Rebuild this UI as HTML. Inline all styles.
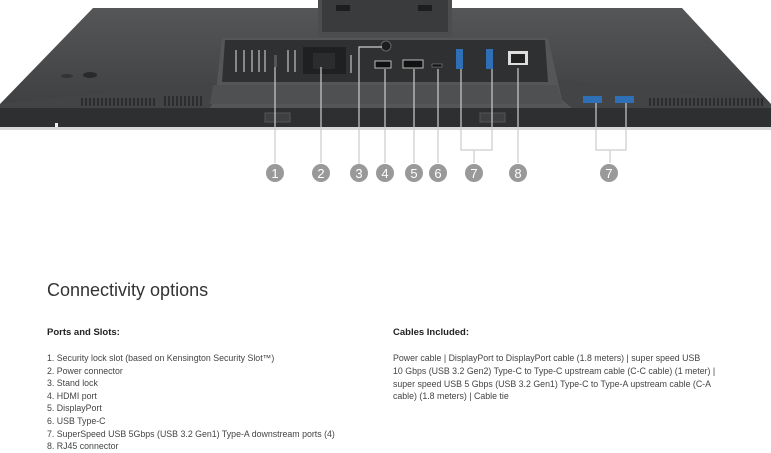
<!DOCTYPE html>
<html><head><style>
body{margin:0;width:771px;height:448px;background:#fff;overflow:hidden;position:relative;font-family:"Liberation Sans",sans-serif;color:#333}
.t{position:absolute;white-space:nowrap}
</style></head><body>
<svg width="771" height="200" style="position:absolute;left:0;top:0">
<defs><linearGradient id="g" x1="0" y1="0" x2="0" y2="1"><stop offset="0" stop-color="#555658"/><stop offset="1" stop-color="#3e3f41"/></linearGradient></defs>
<path d="M93,8 L682,8 L771,104 L771,110 L0,110 L0,104 Z" fill="url(#g)"/>
<path d="M0,104 Q200,80 420,70 Q580,78 771,104 L771,110 L0,110Z" fill="#434446"/>
<rect x="0" y="108" width="771" height="21" fill="#2e2f31"/>
<rect x="0" y="127" width="771" height="3" fill="#d8d8d8"/>
<rect x="318" y="0" width="134" height="38" fill="#4c4d4f"/>
<rect x="322" y="0" width="126" height="32" fill="#3a3b3d"/>
<rect x="336" y="5" width="14" height="6" fill="#1e1e1e"/><rect x="418" y="5" width="14" height="6" fill="#1e1e1e"/>
<rect x="374" y="40" width="22" height="8" fill="#6d6e70"/>
<path d="M222,38 L548,38 L562,100 L572,108 L210,108 L215,100 Z" fill="#555658"/>
<path d="M225,40 L545,40 L548,82 L222,82 Z" fill="#2f3032"/>
<path d="M213,85 L557,85 L562,104 L210,104Z" fill="#4f5052"/>
<rect x="303" y="47" width="43" height="27" fill="#1f2021"/>
<rect x="313" y="53" width="22" height="16" fill="#2b2c2d"/>
<rect x="274" y="55" width="3" height="12" fill="#555"/>
<g fill="#888"><rect x="235" y="50" width="2" height="22"/><rect x="243" y="50" width="2" height="22"/><rect x="251" y="50" width="2" height="22"/><rect x="258" y="50" width="2" height="22"/><rect x="264" y="50" width="2" height="22"/><rect x="287" y="50" width="2" height="22"/><rect x="294" y="50" width="2" height="22"/><rect x="350" y="55" width="2" height="18"/></g>
<circle cx="386" cy="46" r="5" fill="#1e1e1e" stroke="#666"/>
<rect x="375" y="61" width="16" height="7" fill="#111" stroke="#bbb" stroke-width="1"/>
<rect x="403" y="60" width="20" height="8" fill="#111" stroke="#bbb" stroke-width="1"/>
<rect x="432" y="64" width="10" height="3" fill="#111" stroke="#888" stroke-width=".6"/>
<rect x="456" y="49" width="7" height="20" fill="#2f6fb5"/><rect x="486" y="49" width="7" height="20" fill="#2f6fb5"/>
<rect x="508" y="51" width="20" height="14" fill="#ddd"/><rect x="511" y="54" width="14" height="9" fill="#222"/>
<rect x="583" y="96" width="19" height="7" fill="#2f6fb5"/><rect x="615" y="96" width="19" height="7" fill="#2f6fb5"/>
<g stroke="#1e1e1e" stroke-width="1.2">
<path d="M82,98v8M86,98v8M90,98v8M94,98v8M98,98v8M102,98v8M106,98v8M110,98v8M114,98v8M118,98v8M122,98v8M126,98v8M130,98v8M134,98v8M138,98v8M142,98v8M146,98v8M150,98v8M154,98v8M165,96v10M169,96v10M173,96v10M177,96v10M181,96v10M185,96v10M189,96v10M193,96v10M197,96v10M201,96v10"/>
<path d="M650,98v8M654,98v8M658,98v8M662,98v8M666,98v8M670,98v8M674,98v8M678,98v8M682,98v8M686,98v8M690,98v8M694,98v8M698,98v8M702,98v8M706,98v8M710,98v8M714,98v8M718,98v8M722,98v8M726,98v8M730,98v8M734,98v8M738,98v8M742,98v8M746,98v8M750,98v8M754,98v8M758,98v8M762,98v8"/>
</g>
<rect x="265" y="113" width="25" height="9" fill="#3e3f41" stroke="#555"/><rect x="480" y="113" width="25" height="9" fill="#3e3f41" stroke="#555"/>
<ellipse cx="90" cy="75" rx="7" ry="3" fill="#2a2a2a"/><ellipse cx="67" cy="76" rx="6" ry="2" fill="#333"/>
<rect x="55" y="123" width="3" height="4" fill="#eee"/>
<g stroke="#ccc" stroke-width="1.2" fill="none">
<path d="M275,67V163M321,67V163M359,164V47H382M385,69V163M414,69V163M438,69V163M461,69V150H492V69M474,150V163M518,68V163M596,103V150H626V103M610,150V163"/>
</g>
<g fill="#999" font-family="Liberation Sans" font-size="13" text-anchor="middle">
<circle cx="275" cy="173" r="9"/><circle cx="321" cy="173" r="9"/><circle cx="359" cy="173" r="9"/><circle cx="385" cy="173" r="9"/><circle cx="414" cy="173" r="9"/><circle cx="438" cy="173" r="9"/><circle cx="474" cy="173" r="9"/><circle cx="518" cy="173" r="9"/><circle cx="609" cy="173" r="9"/>
<g fill="#fff"><text x="275" y="178">1</text><text x="321" y="178">2</text><text x="359" y="178">3</text><text x="385" y="178">4</text><text x="414" y="178">5</text><text x="438" y="178">6</text><text x="474" y="178">7</text><text x="518" y="178">8</text><text x="609" y="178">7</text></g>
</g>
</svg>
<div class="t" style="left:47px;top:280px;font-size:18px;color:#333">Connectivity options</div>
<div class="t" style="left:47px;top:327px;font-size:9.5px;font-weight:bold;color:#222">Ports and Slots:</div>
<div class="t" style="left:47px;top:352px;font-size:8.8px;line-height:12.6px;color:#444">1. Security lock slot (based on Kensington Security Slot™)<br>2. Power connector<br>3. Stand lock<br>4. HDMI port<br>5. DisplayPort<br>6. USB Type-C<br>7. SuperSpeed USB 5Gbps (USB 3.2 Gen1) Type-A downstream ports (4)<br>8. RJ45 connector</div>
<div class="t" style="left:393px;top:327px;font-size:9.5px;font-weight:bold;color:#222">Cables Included:</div>
<div class="t" style="left:393px;top:352px;font-size:8.8px;line-height:12.8px;color:#444">Power cable | DisplayPort to DisplayPort cable (1.8 meters) | super speed USB<br>10 Gbps (USB 3.2 Gen2) Type-C to Type-C upstream cable (C-C cable) (1 meter) |<br>super speed USB 5 Gbps (USB 3.2 Gen1) Type-C to Type-A upstream cable (C-A<br>cable) (1.8 meters) | Cable tie</div>
</body></html>
